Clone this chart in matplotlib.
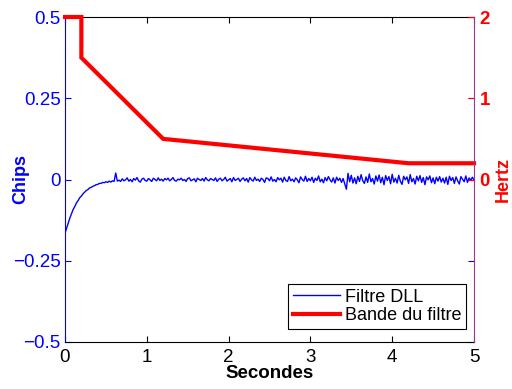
import numpy as np
import matplotlib
matplotlib.use("Agg")
import matplotlib.pyplot as plt

plt.rcParams['font.family'] = ['Liberation Sans', 'DejaVu Sans']

# DLL filter output (milli-chips), sampled every 0.02 s from 0 to 5 s
dll_mchips = [
    -165, -150, -134, -118, -105, -92, -83, -72, -65, -56, -51, -44, -39, -34, -31, -26,
    -24, -21, -19, -16, -15, -12, -12, -9, -10, -7, -9, -5, -8, -4, -6,
    20, -5, -2, -6, 2, -4, -1, 5, -5, 0, -7, 3, -2, 6, -4, -8, 1, 4, -3, -5,
    3, -1, -6, 4, 0, -4, 5, -3, 1, -5, 3, -1, 4, -4, 0, 6, -3, -5, 1, -1,
    4, -3, 0, -6, 3, 5, -4, -1, 2, -7, 4, 0, -3, 3, -5, 6, -1, -4, 3, 0,
    -3, 5, -6, 1, 4, -4, 0, 7, -5, -1, 3, -7, 6, -3, 0, 4, -6, 1, 5, -4,
    3, -8, 6, -1, -5, 7, -3, 1, -6, 4, 0, -9, 5, 3, -4, 8, -5, 0, -7, 6,
    -1, 4, -8, 7, -3, -6, 9, -4, 1, -7, 5, -1, -10, 8, 0, -5, 10, -6, 3, -4,
    7, -9, 4, -3, 11, -7, 1, -10, 6, -4, 9, -1, -8, 5, -11, 7, -3, 4, -9, 3,
    -14, -30, 19, -7, 13, -11, 5, -13, 10, -6, 15, -4, -12, 8, -9, 17, -7, 3, -14, 11,
    -5, 14, -10, 7, -16, 12, -3, 9, -13, 16, -8, 4, -11, 13, -6, -15, 10, -1, 8, -12,
    15, -7, 3, -14, 10, -4, 12, -9, 6, -16, 8, -1, 11, -10, 5, -13, 7, -5, 9, -8,
    4, -11, 7, -15, 10, -3, 6, -12, 8, -4, -14, 9, 1, -7, 11, -9, 5, -3, 7, -1,
]
t_end = 5.0

# Filter bandwidth (Hz) breakpoints
band_t = [0.0, 0.2, 0.2, 1.2, 4.2, 5.0]
band_hz = [2.0, 2.0, 1.5, 0.5, 0.2, 0.2]

left_ticks = [-0.5, -0.25, 0, 0.25, 0.5]
left_labels = ['\u22120.5', '\u22120.25', '0', '0.25', '0.5']
right_ticks = [0, 1, 2]
x_ticks = [0, 1, 2, 3, 4, 5]

dll = np.array(dll_mchips) / 1000.0
t = np.linspace(0, t_end, len(dll))

fig = plt.figure(figsize=(5.12, 3.89), dpi=100)
ax = fig.add_axes([65/512, 47/389, 409/512, 325/389])
ax2 = ax.twinx()

l1, = ax.plot(t, dll, color='#0000ff', lw=1.0, label='Filtre DLL')
l2, = ax2.plot(band_t, band_hz, color='#ff0000', lw=3, label='Bande du filtre',
               clip_on=False, solid_joinstyle='miter')

ax.set_xlim(0, 5)
ax.set_ylim(-0.5, 0.5)
ax2.set_ylim(-2, 2)

ax.set_xticks(x_ticks)
ax.set_xticklabels([str(v) for v in x_ticks], fontsize=13.5)
ax.set_yticks(left_ticks)
ax.set_yticklabels(left_labels, fontsize=13.5, color='#0000ff')
ax.tick_params(axis='y', colors='#0000ff', direction='in', length=4, right=True, pad=3)
ax.tick_params(axis='x', direction='in', length=4, top=True, colors='black', pad=5)

ax2.set_yticks(right_ticks)
ax2.set_yticklabels([str(v) for v in right_ticks], fontsize=13.5, color='#ff0000',
                    fontweight='bold')
ax2.tick_params(axis='y', colors='#ff0000', direction='in', length=4, pad=4)

ax.spines['left'].set_color('#0000ff')
ax.spines['right'].set_visible(False)
ax.spines['top'].set_color('black')
ax.spines['bottom'].set_color('black')
ax2.spines['left'].set_visible(False)
ax2.spines['top'].set_visible(False)
ax2.spines['bottom'].set_visible(False)
ax2.spines['right'].set_color('#993399')

ax.set_xlabel('Secondes', fontsize=13.5, fontweight='bold', labelpad=-1)
ax.set_ylabel('Chips', fontsize=13, fontweight='bold', color='#0000ff')
ax.yaxis.set_label_coords((29 - 65) / 409, 0.5)
ax2.set_ylabel('Hertz', fontsize=13, fontweight='bold', color='#ff0000')
ax2.yaxis.set_label_coords((495 - 65) / 409, 0.5)

leg = ax2.legend(handles=[l1, l2], loc='lower right', fontsize=13, fancybox=False,
                 edgecolor='black', framealpha=1, bbox_to_anchor=(466/512, 60/389),
                 bbox_transform=fig.transFigure, borderaxespad=0,
                 handlelength=2.6, handletextpad=0.3, borderpad=0.25, labelspacing=0.1)
leg.get_frame().set_linewidth(0.8)

fig.savefig('out.png', dpi=100)
